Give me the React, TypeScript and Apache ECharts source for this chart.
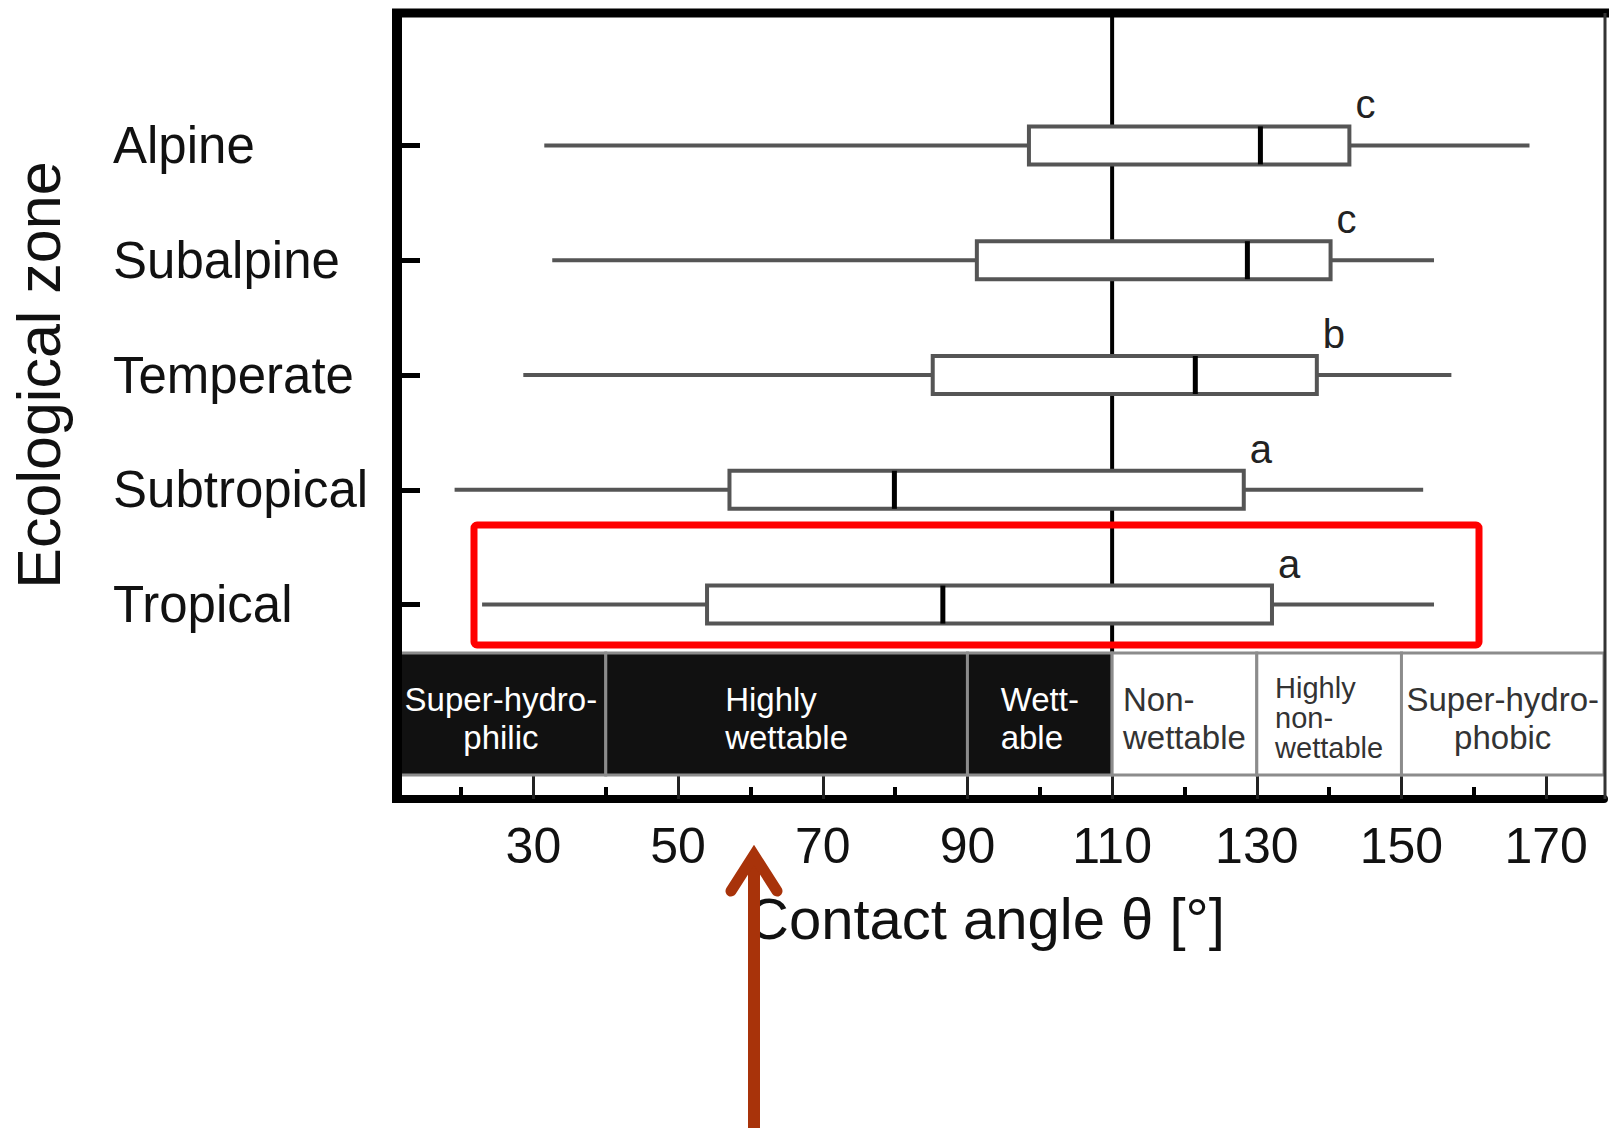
import React, { useEffect, useRef } from 'react';
import * as echarts from 'echarts';

// ---- data ----
const zones = ['Alpine', 'Subalpine', 'Temperate', 'Subtropical', 'Tropical'];
const whiskerLow = [31.5, 32.6, 28.6, 19.1, 22.9];
const quartile1 = [98.5, 91.3, 85.2, 57.1, 54.0];
const medians = [130.5, 128.7, 121.5, 79.9, 86.6];
const quartile3 = [142.8, 140.2, 138.3, 128.2, 132.1];
const whiskerHigh = [167.7, 154.5, 156.9, 153.0, 154.5];
const groupLetters = ['c', 'c', 'b', 'a', 'a'];

const classNames = [
  'Super-hydro-\nphilic',
  'Highly\nwettable',
  'Wett-\nable',
  'Non-\nwettable',
  'Highly\nnon-\nwettable',
  'Super-hydro-\nphobic',
];
const classFrom = [0, 40, 90, 110, 130, 150];
const classTo = [40, 90, 110, 130, 150, 180];
const classDark = [1, 1, 1, 0, 0, 0];

const xMin = 11;
const xMax = 178;
const majorTicks = [30, 50, 70, 90, 110, 130, 150, 170];
const minorTicks = [20, 40, 60, 80, 100, 120, 140, 160];
const referenceAngle = [110];

const FONT = "'Liberation Sans', Arial, Helvetica, sans-serif";
// labels whose lines are each centred (the others are left-aligned blocks)
const centredClassLabels = new Set([0, 5]);

function textWidth(text: string, size: number): number {
  const c = document.createElement('canvas').getContext('2d');
  if (!c) return text.length * size * 0.5;
  c.font = `${size}px ${FONT}`;
  return Math.max(...text.split('\n').map((l) => c.measureText(l).width));
}

export default function App() {
  const ref = useRef<HTMLDivElement>(null);

  useEffect(() => {
    if (!ref.current) return;
    const chart = echarts.init(ref.current, undefined, { renderer: 'svg' });

    const boxData = zones.map((_, i) => [
      i,
      whiskerLow[i],
      quartile1[i],
      medians[i],
      quartile3[i],
      whiskerHigh[i],
    ]);
    const bandData = classFrom.map((f, i) => [f, classTo[i], classDark[i], 0]);
    const refData = referenceAngle.map((v) => [v, 0]);

    const option: any = {
      animation: false,
      backgroundColor: '#ffffff',
      textStyle: { fontFamily: FONT },
      grid: [
        { left: 396, right: 5, top: 88, height: 574 },
        { left: 396, right: 5, top: 653, height: 146 },
        { left: 396, right: 5, top: 13, height: 640 },
      ],
      xAxis: [
        { gridIndex: 0, type: 'value', min: xMin, max: xMax, show: false },
        {
          gridIndex: 1,
          type: 'value',
          min: xMin,
          max: xMax,
          position: 'bottom',
          axisLine: { show: true, lineStyle: { color: '#000', width: 8 } },
          axisTick: {
            show: true,
            inside: true,
            length: 24,
            customValues: majorTicks,
            lineStyle: { color: '#222', width: 3 },
          },
          axisLabel: {
            customValues: majorTicks,
            fontSize: 50,
            color: '#111',
            margin: 22,
            fontFamily: FONT,
          },
          splitLine: { show: false },
          name: 'Contact angle θ [°]',
          nameLocation: 'middle',
          nameGap: 90,
          nameTextStyle: {
            fontSize: 58,
            color: '#111',
            fontFamily: FONT,
            padding: [0, 28, 0, 0],
          },
        },
        {
          gridIndex: 1,
          type: 'value',
          min: xMin,
          max: xMax,
          position: 'bottom',
          axisLine: { show: false },
          axisTick: {
            show: true,
            inside: true,
            length: 12,
            customValues: minorTicks,
            lineStyle: { color: '#000', width: 4 },
          },
          axisLabel: { show: false },
          splitLine: { show: false },
        },
        { gridIndex: 2, type: 'value', min: xMin, max: xMax, show: false },
      ],
      yAxis: [
        {
          gridIndex: 0,
          type: 'category',
          inverse: true,
          data: zones,
          axisLine: { show: false },
          axisTick: {
            show: true,
            inside: true,
            alignWithLabel: true,
            length: 24,
            lineStyle: { color: '#000', width: 5 },
          },
          axisLabel: {
            align: 'left',
            margin: 283,
            fontSize: 51,
            color: '#111',
            fontFamily: FONT,
          },
          splitLine: { show: false },
          name: 'Ecological zone',
          nameLocation: 'middle',
          nameRotate: 90,
          nameGap: 327,
          nameTextStyle: { fontSize: 61, color: '#111', fontFamily: FONT },
        },
        { gridIndex: 1, type: 'value', min: 0, max: 1, show: false },
        { gridIndex: 2, type: 'value', min: 0, max: 1, show: false },
      ],
      series: [
        {
          type: 'custom',
          name: 'reference',
          xAxisIndex: 3,
          yAxisIndex: 2,
          z: 1,
          data: refData,
          encode: { x: 0, y: 1 },
          renderItem: (params: any, api: any) => {
            const v = api.value(0);
            const p0 = api.coord([v, 0]);
            const p1 = api.coord([v, 1]);
            return {
              type: 'line',
              shape: { x1: p0[0], y1: p0[1], x2: p1[0], y2: p1[1] },
              style: { stroke: '#000', lineWidth: 4 },
            };
          },
        },
        {
          type: 'custom',
          name: 'classes',
          xAxisIndex: 1,
          yAxisIndex: 1,
          z: 2,
          data: bandData,
          encode: { x: [0, 1], y: 3 },
          renderItem: (params: any, api: any) => {
            const cs = params.coordSys;
            const i = params.dataIndex;
            const a = api.coord([api.value(0), 0])[0];
            const b = api.coord([api.value(1), 0])[0];
            const x1 = Math.max(a, cs.x);
            const x2 = Math.min(b, cs.x + cs.width);
            const top = cs.y;
            const bottom = cs.y + cs.height - 24;
            const dark = api.value(2) === 1;
            const label = classNames[i];
            const threeLines = label.split('\n').length > 2;
            const fs = threeLines ? 29 : 33;
            const centred = centredClassLabels.has(i);
            const cx = (x1 + x2) / 2;
            const tx = centred ? cx : cx - textWidth(label, fs) / 2;
            return {
              type: 'group',
              children: [
                {
                  type: 'rect',
                  shape: { x: x1, y: top, width: x2 - x1, height: bottom - top },
                  style: {
                    fill: dark ? '#111111' : '#ffffff',
                    stroke: '#8c8c8c',
                    lineWidth: 3,
                  },
                },
                {
                  type: 'text',
                  style: {
                    text: label,
                    x: tx,
                    y: (top + bottom) / 2 + 4,
                    align: centred ? 'center' : 'left',
                    verticalAlign: 'middle',
                    fontSize: fs,
                    lineHeight: threeLines ? 30 : 38,
                    fontFamily: FONT,
                    fill: dark ? '#ffffff' : '#333333',
                  },
                },
              ],
            };
          },
        },
        {
          type: 'custom',
          name: 'boxes',
          xAxisIndex: 0,
          yAxisIndex: 0,
          z: 3,
          data: boxData,
          encode: { x: [1, 2, 3, 4, 5], y: 0 },
          renderItem: (params: any, api: any) => {
            const ci = api.value(0);
            const y = api.coord([xMin, ci])[1];
            const xl = api.coord([api.value(1), ci])[0];
            const xq1 = api.coord([api.value(2), ci])[0];
            const xm = api.coord([api.value(3), ci])[0];
            const xq3 = api.coord([api.value(4), ci])[0];
            const xh = api.coord([api.value(5), ci])[0];
            const h = 19;
            return {
              type: 'group',
              children: [
                {
                  type: 'line',
                  shape: { x1: xl, y1: y, x2: xq1, y2: y },
                  style: { stroke: '#555', lineWidth: 4 },
                },
                {
                  type: 'line',
                  shape: { x1: xq3, y1: y, x2: xh, y2: y },
                  style: { stroke: '#555', lineWidth: 4 },
                },
                {
                  type: 'rect',
                  shape: { x: xq1, y: y - h, width: xq3 - xq1, height: 2 * h },
                  style: { fill: '#fff', stroke: '#555', lineWidth: 4 },
                },
                {
                  type: 'line',
                  shape: { x1: xm, y1: y - h, x2: xm, y2: y + h },
                  style: { stroke: '#000', lineWidth: 5 },
                },
                {
                  type: 'text',
                  style: {
                    text: groupLetters[params.dataIndex],
                    x: xq3 + 6,
                    y: y - h - 22,
                    align: 'left',
                    verticalAlign: 'middle',
                    fontSize: 40,
                    fontFamily: FONT,
                    fill: '#222',
                  },
                },
              ],
            };
          },
        },
      ],
      graphic: [
        {
          type: 'line',
          z: 50,
          shape: { x1: 392, y1: 13, x2: 1609, y2: 13 },
          style: { stroke: '#000', lineWidth: 9 },
        },
        {
          type: 'line',
          z: 50,
          shape: { x1: 397, y1: 9, x2: 397, y2: 803 },
          style: { stroke: '#000', lineWidth: 10 },
        },
        {
          type: 'line',
          z: 50,
          shape: { x1: 1605, y1: 13, x2: 1605, y2: 799 },
          style: { stroke: '#333', lineWidth: 3 },
        },
        {
          type: 'rect',
          z: 60,
          shape: { x: 474, y: 525, width: 1005, height: 120, r: 3 },
          style: { fill: 'none', stroke: '#ff0000', lineWidth: 7 },
        },
        {
          type: 'line',
          z: 60,
          shape: { x1: 754, y1: 856, x2: 754, y2: 1128 },
          style: { stroke: '#a8330a', lineWidth: 12 },
        },
        {
          type: 'polyline',
          z: 60,
          shape: { points: [[731, 891], [754, 855], [777, 891]] },
          style: {
            stroke: '#a8330a',
            lineWidth: 11,
            lineCap: 'round',
            lineJoin: 'miter',
            fill: 'none',
          },
        },
      ],
    };

    chart.setOption(option);
    return () => chart.dispose();
  }, []);

  return (
    <div
      ref={ref}
      style={{
        position: 'absolute',
        left: 0,
        top: 0,
        width: 1609,
        height: 1128,
        background: '#fff',
      }}
    />
  );
}
